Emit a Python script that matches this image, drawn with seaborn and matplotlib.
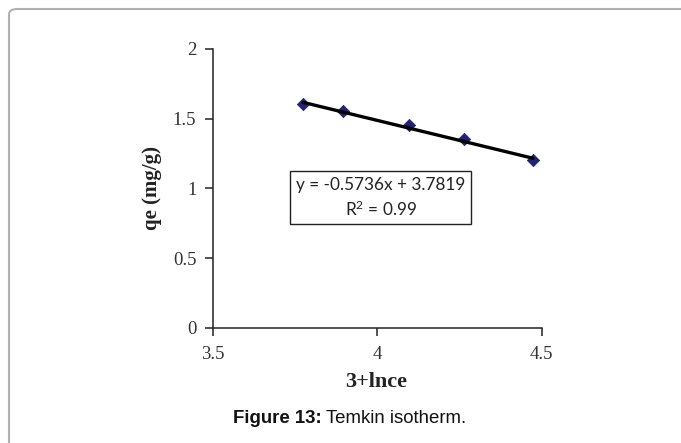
import numpy as np
import pandas as pd
import seaborn as sns
import matplotlib
matplotlib.use("Agg")
import matplotlib.pyplot as plt
from matplotlib.patches import FancyBboxPatch

# Temkin isotherm data
ln_ce = [3.774, 3.894, 4.097, 4.263, 4.473]
qe = [1.606, 1.553, 1.457, 1.355, 1.204]

slope = -0.5736
intercept = 3.7819
r_squared = 0.99

x_ticks = [3.5, 4.0, 4.5]
x_tick_labels = ["3.5", "4", "4.5"]
y_ticks = [0, 0.5, 1.0, 1.5, 2.0]
y_tick_labels = ["0", "0.5", "1", "1.5", "2"]

sns.set_style("ticks")
plt.rcParams["font.family"] = ["Liberation Serif", "DejaVu Serif"]
plt.rcParams["mathtext.fontset"] = "custom"
plt.rcParams["mathtext.rm"] = "Lato"
plt.rcParams["mathtext.it"] = "Lato"

fig = plt.figure(figsize=(6.81, 4.43), dpi=100)
ax = fig.add_axes([0.3128, 0.2603, 0.4826, 0.6291])

df = pd.DataFrame({"x": ln_ce, "y": qe})
fit_x = np.array([min(ln_ce), max(ln_ce)])
fit = pd.DataFrame({"x": fit_x, "y": slope * fit_x + intercept})

sns.scatterplot(data=df, x="x", y="y", ax=ax, marker="D", s=40,
                color="#23236e", edgecolor="#23236e", linewidth=0.5, zorder=2)
sns.lineplot(data=fit, x="x", y="y", ax=ax, color="black", linewidth=2.4, zorder=3)

ax.set_xlim(3.5, 4.5)
ax.set_ylim(0, 2)
ax.set_xticks(x_ticks)
ax.set_xticklabels(x_tick_labels)
ax.set_yticks(y_ticks)
ax.set_yticklabels(y_tick_labels)
ax.tick_params(axis="both", direction="out", length=6, width=1.1,
               color="#222222", labelsize=13.5, labelcolor="#333333")
ax.tick_params(axis="y", pad=6)
ax.tick_params(axis="x", pad=7)
for side in ("top", "right"):
    ax.spines[side].set_visible(False)
for side in ("left", "bottom"):
    ax.spines[side].set_linewidth(1.1)
    ax.spines[side].set_color("#222222")
ax.set_xlabel("")
ax.set_ylabel("")
ax.patch.set_alpha(0)

fig.text(0.553, 0.137, "3+lnce", ha="center", va="center",
         fontsize=16, fontweight="bold", color="#222222")
fig.text(0.223, 0.5756, "qe (mg/g)", ha="center", va="center", rotation=90,
         fontsize=15, fontweight="bold", color="#222222")

ax.text(4.01, 0.931, f"y = {slope}x + {intercept}\nR$^2$ = {r_squared}",
        ha="center", va="center", fontsize=12.4, family=["Lato", "DejaVu Sans"],
        color="#222222", linespacing=1.4,
        bbox=dict(boxstyle="square,pad=0.32", facecolor="white",
                  edgecolor="#222222", linewidth=1.0), zorder=5)

# caption
fig.text(0.4725, 0.055, "Figure 13:", ha="right", va="center", fontsize=13.4,
         fontweight="bold", family=["Liberation Sans", "DejaVu Sans"], color="#111111")
fig.text(0.4787, 0.055, "Temkin isotherm.", ha="left", va="center", fontsize=13.4,
         family=["Liberation Sans", "DejaVu Sans"], color="#111111")

# rounded frame around the figure panel
frame = FancyBboxPatch((9 / 681, -0.1), 1.2, (443 - 9) / 443 + 0.1,
                       boxstyle="round,pad=0,rounding_size=0.012",
                       transform=fig.transFigure, facecolor="none",
                       edgecolor="#b0b0b0", linewidth=1.5, clip_on=False)
fig.patches.append(frame)

fig.savefig("out.png", dpi=100)
